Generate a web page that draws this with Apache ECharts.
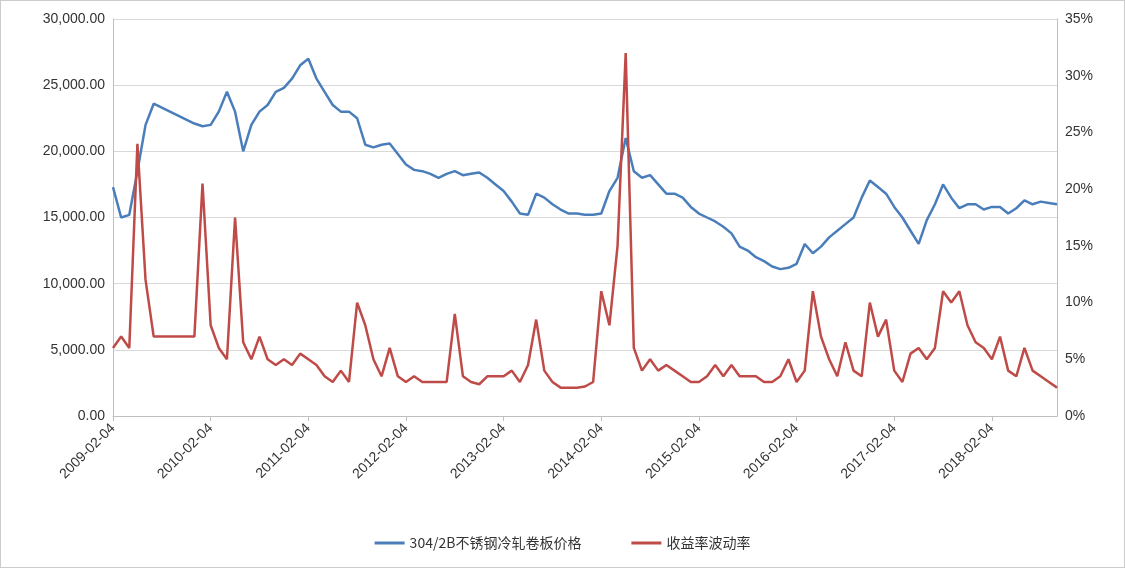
<!DOCTYPE html>
<html><head><meta charset="utf-8">
<script src="https://cdn.jsdelivr.net/npm/echarts@6/dist/echarts.min.js"></script>
<style>html,body{margin:0;padding:0;background:#fff}#c{width:1125px;height:568px;box-sizing:border-box;border:1px solid #ccc}</style>
</head><body><div id="c"></div>
<script>
const startYear = 2009, startMonth = 2, monthCount = 117;
const priceName = '304/2B不锈钢冷轧卷板价格';
const volName = '收益率波动率';
const price = [
17300,15000,15200,18500,22000,23600,23300,23000,22700,22400,22100,
21900,22000,23000,24500,23000,20000,22000,23000,23500,24500,24800,25500,
26500,27000,25500,24500,23500,23000,23000,22500,20500,20300,20500,20600,
19800,19000,18600,18500,18300,18000,18300,18500,18200,18300,18400,18000,
17500,17000,16200,15300,15200,16800,16500,16000,15600,15300,15300,15200,
15200,15300,17000,18000,21000,18500,18000,18200,17500,16800,16800,16500,
15800,15300,15000,14700,14300,13800,12800,12500,12000,11700,11300,11100,
11200,11500,13000,12300,12800,13500,14000,14500,15000,16500,17800,17300,
16800,15800,15000,14000,13000,14800,16000,17500,16500,15700,16000,16000,
15600,15800,15800,15300,15700,16300,16000,16200,16100,16000];
const vol = [
6,7,6,24,12,7,7,7,7,7,7,
20.5,8,6,5,17.5,6.5,5,7,5,4.5,5,4.5,
5.5,5,4.5,3.5,3,4,3,10,8,5,3.5,6,
3.5,3,3.5,3,3,3,3,9,3.5,3,2.8,3.5,
3.5,3.5,4,3,4.5,8.5,4,3,2.5,2.5,2.5,2.6,
3,11,8,15,32,6,4,5,4,4.5,4,3.5,
3,3,3.5,4.5,3.5,4.5,3.5,3.5,3.5,3,3,3.5,
5,3,4,11,7,5,3.5,6.5,4,3.5,10,7,
8.5,4,3,5.5,6,5,6,11,10,11,8,6.5,
6,5,7,4,3.5,6,4,3.5,3,2.5];
const dates = [];
for (let i = 0; i < monthCount; i++) {
  const m = startMonth - 1 + i, y = startYear + Math.floor(m / 12), mm = m % 12 + 1;
  dates.push(y + '-' + String(mm).padStart(2, '0') + '-04');
}
const chart = echarts.init(document.getElementById('c'));
const lbl = {color: '#333', fontSize: 14, fontFamily: 'Liberation Sans'};
chart.setOption({
  animation: false,
  grid: {left: 112, right: 67, top: 18, bottom: 151},
  legend: {bottom: 12, itemWidth: 30, itemHeight: 3, itemGap: 50, icon: 'rect',
    textStyle: {color: '#333', fontSize: 14, fontFamily: 'Noto Sans CJK SC'},
    data: [priceName, volName]},
  xAxis: {type: 'category', data: dates, boundaryGap: false,
    axisLine: {lineStyle: {color: '#bfbfbf'}},
    axisTick: {show: true, interval: (i) => i % 12 === 0, lineStyle: {color: '#bfbfbf'}},
    axisLabel: Object.assign({rotate: 45, interval: (i) => i % 12 === 0, margin: 10}, lbl)},
  yAxis: [
    {type: 'value', min: 0, max: 30000, interval: 5000,
     axisLabel: Object.assign({formatter: v => v.toLocaleString('en-US', {minimumFractionDigits: 2})}, lbl),
     splitLine: {lineStyle: {color: '#d9d9d9'}}, axisLine: {show: true, lineStyle: {color: '#bfbfbf'}}},
    {type: 'value', min: 0, max: 35, interval: 5,
     axisLabel: Object.assign({formatter: '{value}%'}, lbl),
     splitLine: {show: false}, axisLine: {show: true, lineStyle: {color: '#bfbfbf'}}}
  ],
  series: [
    {name: priceName, type: 'line', data: price, yAxisIndex: 0, showSymbol: false,
     lineStyle: {color: '#4a7ebb', width: 2.5}, itemStyle: {color: '#4a7ebb'}},
    {name: volName, type: 'line', data: vol, yAxisIndex: 1, showSymbol: false,
     lineStyle: {color: '#be4b48', width: 2.5}, itemStyle: {color: '#be4b48'}}
  ]
});
</script></body></html>
